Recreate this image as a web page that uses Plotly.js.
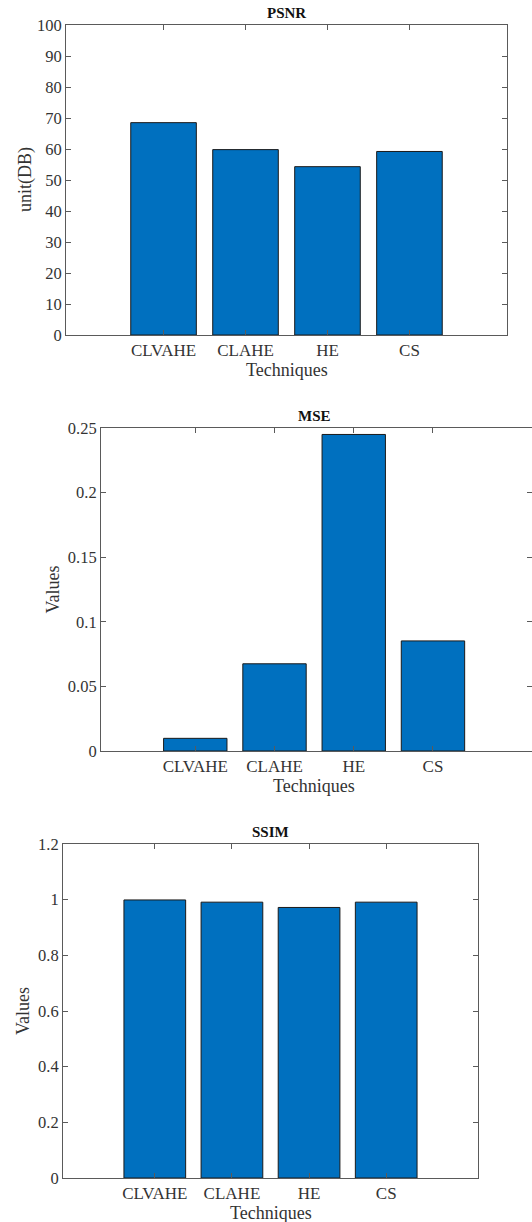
<!DOCTYPE html>
<html>
<head>
<meta charset="utf-8">
<script src="https://cdn.plot.ly/plotly-3.0.1.min.js"></script>
<style>html,body{margin:0;padding:0;background:#fff;}#chart{width:532px;height:1222px;}</style>
</head>
<body>
<div id="chart"></div>
<script>
const categories = ["CLVAHE", "CLAHE", "HE", "CS"];
const psnrValues = [68.5, 59.8, 54.3, 59.2];
const mseValues = [0.0098, 0.0675, 0.245, 0.0852];
const ssimValues = [0.999, 0.991, 0.972, 0.991];
const psnrTicks = [0, 10, 20, 30, 40, 50, 60, 70, 80, 90, 100];
const mseTicks = [0, 0.05, 0.1, 0.15, 0.2, 0.25];
const mseTickText = ["0", "0.05", "0.1", "0.15", "0.2", "0.25"];
const ssimTicks = [0, 0.2, 0.4, 0.6, 0.8, 1, 1.2];
const ssimTickText = ["0", "0.2", "0.4", "0.6", "0.8", "1", "1.2"];

const W = 532, H = 1222;
const FONT = "Liberation Serif, Times New Roman, serif";
const BAR = "#0070BF";
const AX = "#5a5a5a";

function px(x) { return x / W; }
function py(y) { return 1 - y / H; }

const panels = [
  {vals: psnrValues, x0: 66, x1: 507, xr: [-1.19, 4.19], top: 25, bot: 335, yr: [0, 100], ticks: psnrTicks, ticktext: psnrTicks.map(String), title: "PSNR", ytitle: "unit(DB)", ytx: 25},
  {vals: mseValues, x0: 101, x1: 532, xr: [-1.19, 4.25], top: 428, bot: 751, yr: [0, 0.25], ticks: mseTicks, ticktext: mseTickText, title: "MSE", ytitle: "Values", ytx: 53, tcx: 314},
  {vals: ssimValues, x0: 63, x1: 478, xr: [-1.19, 4.19], top: 844, bot: 1178, yr: [0, 1.2], ticks: ssimTicks, ticktext: ssimTickText, title: "SSIM", ytitle: "Values", ytx: 23}
];

const data = [];
const layout = {
  width: W, height: H,
  margin: {l: 0, r: 0, t: 0, b: 0},
  paper_bgcolor: "#fff", plot_bgcolor: "#fff",
  showlegend: false,
  font: {family: FONT, size: 16, color: "#333"},
  annotations: []
};

panels.forEach((p, i) => {
  const n = i === 0 ? "" : String(i + 1);
  data.push({
    type: "bar",
    x: categories,
    y: p.vals,
    xaxis: "x" + n,
    yaxis: "y" + n,
    width: 0.8,
    marker: {color: BAR, line: {color: "#1a1a1a", width: 1}},
    hoverinfo: "none"
  });
  layout["xaxis" + n] = {
    domain: [px(p.x0), px(p.x1)],
    anchor: "y" + n,
    type: "category",
    range: p.xr,
    showgrid: false, zeroline: false,
    showline: true, linecolor: AX, linewidth: 1, mirror: "ticks",
    ticks: "inside", ticklen: 5, tickcolor: AX,
    tickfont: {family: FONT, size: 17, color: "#333"},
    fixedrange: true
  };
  layout["yaxis" + n] = {
    domain: [py(p.bot), py(p.top)],
    anchor: "x" + n,
    range: p.yr,
    tickvals: p.ticks,
    ticktext: p.ticktext,
    showgrid: false, zeroline: false,
    showline: true, linecolor: AX, linewidth: 1, mirror: "ticks",
    ticks: "inside", ticklen: 5, tickcolor: AX,
    tickfont: {family: FONT, size: 16.5, color: "#333"},
    fixedrange: true
  };
  const cx = p.tcx || (p.x0 + p.x1) / 2;
  layout.annotations.push({
    text: "<b>" + p.title + "</b>", xref: "paper", yref: "paper",
    x: px(cx), y: py(p.top - 2), xanchor: "center", yanchor: "bottom",
    showarrow: false, font: {family: FONT, size: 15, color: "#111"}
  });
  layout.annotations.push({
    text: "Techniques", xref: "paper", yref: "paper",
    x: px(cx), y: py(p.bot + 23), xanchor: "center", yanchor: "top",
    showarrow: false, font: {family: FONT, size: 18, color: "#333"}
  });
  layout.annotations.push({
    text: p.ytitle, xref: "paper", yref: "paper",
    x: px(p.ytx), y: py((p.top + p.bot) / 2), xanchor: "center", yanchor: "middle",
    textangle: -90,
    showarrow: false, font: {family: FONT, size: 18, color: "#333"}
  });
});

Plotly.newPlot("chart", data, layout, {staticPlot: true, displayModeBar: false});
</script>
</body>
</html>
